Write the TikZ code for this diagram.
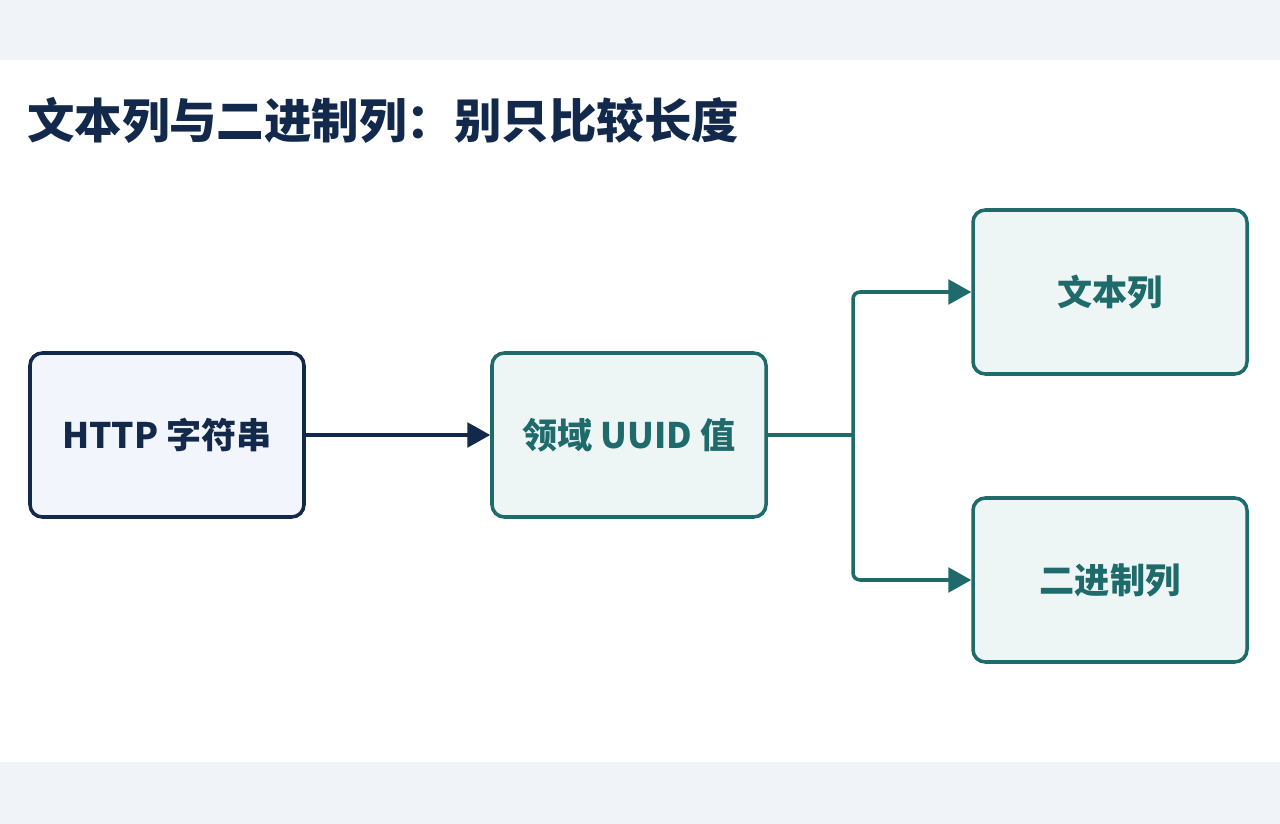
\documentclass[tikz,border=0pt]{standalone}
\usepackage{fontspec}
\setmainfont{Noto Sans CJK SC}
\usetikzlibrary{positioning, arrows.meta}
\definecolor{navy}{HTML}{13294B}
\definecolor{teal}{HTML}{1F6B6B}
\definecolor{band}{HTML}{F0F3F7}
\definecolor{paleblue}{HTML}{F2F5FC}
\definecolor{paleteal}{HTML}{EEF6F5}
\begin{document}
\begin{tikzpicture}[
    box/.style={draw, line width=2pt, rounded corners=7pt, minimum width=5.48cm,
      minimum height=3.28cm, font=\fontsize{20}{24}\selectfont\bfseries},
    navybox/.style={box, draw=navy, fill=paleblue, text=navy},
    tealbox/.style={box, draw=teal, fill=paleteal, text=teal},
    link/.style={line width=2pt, -{Triangle[length=13pt,width=14pt]}}]
			\useasboundingbox[fill=white] (0,0) rectangle (25.6,16.48);
			\fill[band] (0,15.28) rectangle (25.6,16.48);
			\fill[band] (0,0) rectangle (25.6,1.24);
			
			\node[anchor=west, text=navy, font=\fontsize{27}{32}\selectfont\bfseries] (title) at (0.42,14.08) {文本列与二进制列：别只比较长度};
			
			\node[navybox] (http) at (3.34,7.78) {HTTP 字符串};
			\node[tealbox] (uuid) at (12.58,7.78) {领域 UUID 值};
			\node[tealbox] (text) at (22.2,10.64) {文本列};
			\node[tealbox] (binary) at (22.2,4.88) {二进制列};
			\coordinate (split) at (17.06,7.78);
			
			\draw[link, navy] (http) -- (uuid);
			\draw[teal, line width=2pt] (uuid) -- (split);
			\draw[link, teal, rounded corners=4pt] (split) |- (text);
			\draw[link, teal, rounded corners=4pt] (split) |- (binary);
			
		\end{tikzpicture}
\end{document}
